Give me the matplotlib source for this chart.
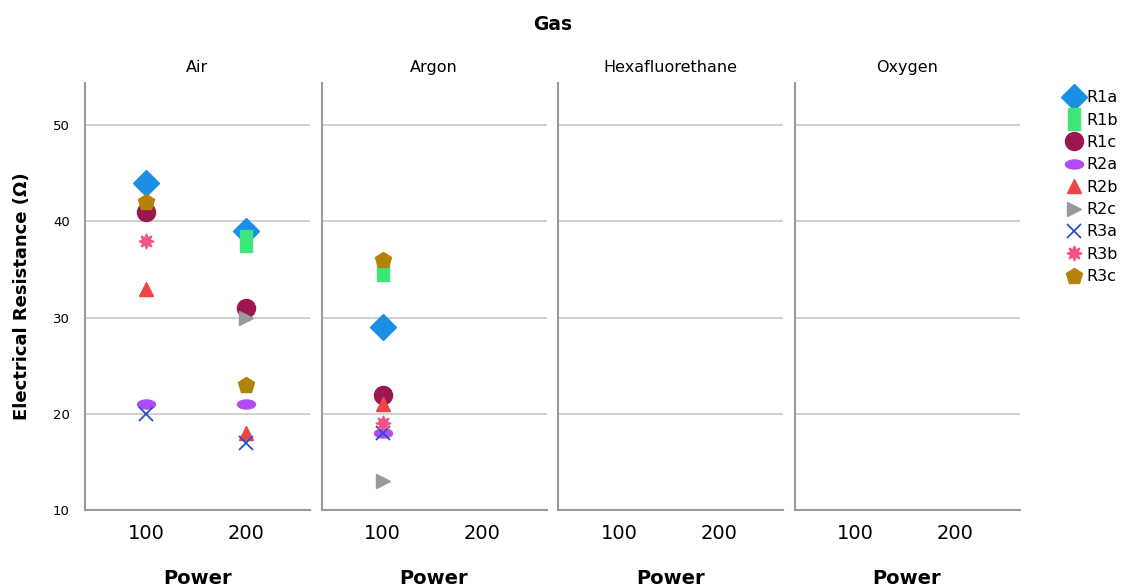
import numpy as np
import matplotlib.pyplot as plt
from matplotlib.path import Path

gases = ["Air", "Argon", "Hexafluorethane", "Oxygen"]
powers = ["100", "200"]
series = ["R1a", "R1b", "R1c", "R2a", "R2b", "R2c", "R3a", "R3b", "R3c"]

# values per series: dict gas -> [value at 100, value at 200] (nan = missing)
nan = np.nan
R1a = {"Air": [44, 39], "Argon": [29, nan]}
R1b = {"Air": [nan, 38], "Argon": [35, nan]}
R1c = {"Air": [41, 31], "Argon": [22, nan]}
R2a = {"Air": [21, 21], "Argon": [18, nan]}
R2b = {"Air": [33, 18], "Argon": [21, nan]}
R2c = {"Air": [nan, 30], "Argon": [13, nan]}
R3a = {"Air": [20, 17], "Argon": [18, nan]}
R3b = {"Air": [38, nan], "Argon": [19, nan]}
R3c = {"Air": [42, 23], "Argon": [36, nan]}
values = [R1a, R1b, R1c, R2a, R2b, R2c, R3a, R3b, R3c]

rect = Path([(-0.5, -1), (0.5, -1), (0.5, 1), (-0.5, 1), (-0.5, -1)], closed=True)
t = np.linspace(0, 2 * np.pi, 40)
ellipse = Path(np.column_stack([np.cos(t), 0.5 * np.sin(t)]), closed=True)

styles = {
    "R1a": dict(marker="D", color="#1b8fe4", ms=13),
    "R1b": dict(marker=rect, color="#3ee57b", ms=16),
    "R1c": dict(marker="o", color="#9c1650", ms=13),
    "R2a": dict(marker=ellipse, color="#b04cf5", ms=13),
    "R2b": dict(marker="^", color="#ee4646", ms=10),
    "R2c": dict(marker=">", color="#999999", ms=10),
    "R3a": dict(marker="x", color="#2a4fc4", ms=10, mew=1.3),
    "R3b": dict(marker=(8, 1, 0), color="#f0538a", ms=11),
    "R3c": dict(marker="p", color="#b38308", ms=12),
}

fig = plt.figure(figsize=(11.24, 5.88), dpi=100)
W, H = 1124, 588
left0, pw, gap = 85, 225, 11.5
top, bot = 83, 510

axes = []
for i, gas in enumerate(gases):
    x0 = left0 + i * (pw + gap)
    ax = fig.add_axes([x0 / W, 1 - bot / H, pw / W, (bot - top) / H])
    axes.append(ax)
    for name, vals in zip(series, values):
        st = styles[name]
        y = vals.get(gas, [nan, nan])
        ax.plot([0, 1], y, linestyle="none", marker=st["marker"], color=st["color"],
                markersize=st["ms"], markeredgewidth=st.get("mew", 1),
                markeredgecolor=st["color"], label=name)
    ax.set_xlim(-0.61, 1.64)
    ax.set_ylim(10, 54.4)
    ax.set_xticks([0, 1])
    ax.set_xticklabels(powers, fontsize=14)
    ax.set_yticks([10, 20, 30, 40, 50])
    ax.yaxis.grid(True, color="#c8c8c8", lw=1.2)
    ax.set_axisbelow(True)
    ax.tick_params(axis="x", length=0, pad=10)
    ax.tick_params(axis="y", length=0, pad=11)
    for s in ["top", "right"]:
        ax.spines[s].set_visible(False)
    for s in ["left", "bottom"]:
        ax.spines[s].set_color("#999999")
        ax.spines[s].set_linewidth(1.5)
    ax.set_title(gas, fontsize=11.5, pad=8)
    ax.set_xlabel("Power", fontsize=14, fontweight="bold", labelpad=19)
    if i == 0:
        ax.set_yticklabels(["10", "20", "30", "40", "50"], fontsize=9.5)
        ax.set_ylabel("Electrical Resistance (Ω)", fontsize=13, fontweight="bold", labelpad=16)
    else:
        ax.set_yticklabels([])

fig.text(553 / W, 1 - 25 / H, "Gas", fontsize=13.5, fontweight="bold", ha="center", va="center")

handles, labels = axes[0].get_legend_handles_labels()
fig.legend(handles, labels, loc="upper left", bbox_to_anchor=(1058 / W, 1 - 84 / H),
           frameon=False, fontsize=11.5, handletextpad=0.2, labelspacing=0.46,
           handlelength=1.2, borderaxespad=0)

fig.savefig("out.png", dpi=100)
